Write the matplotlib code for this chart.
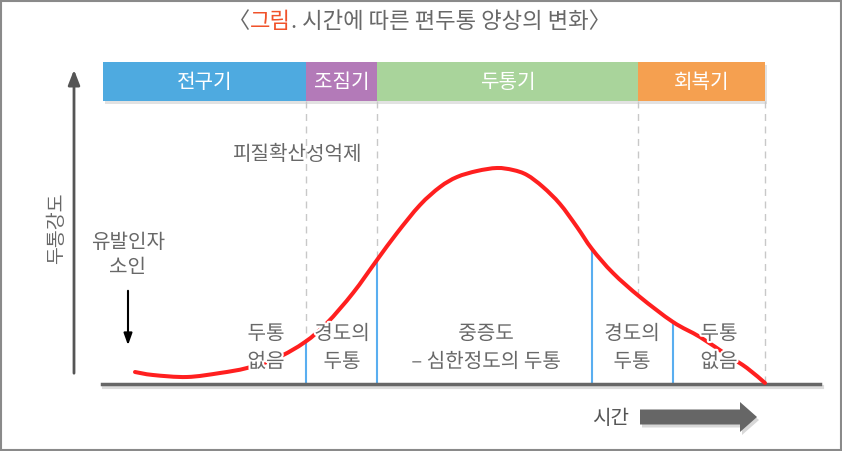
import numpy as np
import matplotlib
matplotlib.use("Agg")
import matplotlib.pyplot as plt
from matplotlib.patches import Rectangle, FancyArrow, PathPatch
from matplotlib.path import Path
import matplotlib.patheffects as pe

plt.rcParams['font.family'] = ['Noto Sans CJK KR', 'DejaVu Sans']

# 단계 (막대)
phase_names = ['전구기', '조짐기', '두통기', '회복기']
phase_edges = [103, 306, 377, 638, 765]
phase_colors = ['#4eaae0', '#b37ab8', '#a9d49b', '#f5a050']

# 두통 강도 곡선 (그림 좌표, y는 아래로 증가)
curve_x = [135, 153, 187, 220, 247, 277, 305, 327, 353, 377, 397, 420, 440,
           457, 477, 497, 513, 527, 543, 560, 577, 592, 613, 640, 673, 700,
           727, 747, 765]
curve_y = [372, 375, 377, 373, 368, 358, 342, 323, 293, 260, 233, 205, 187,
           177, 171, 168, 170, 175, 187, 204, 227, 249, 273, 297, 322, 337,
           355, 368, 383]

# 구간 경계 (파란 실선)
stage_lines = [306, 377, 592, 673]
stage_labels = [('두통\n없음', 266), ('경도의\n두통', 342),
                ('중증도\n– 심한정도의 두통', 486), ('경도의\n두통', 632),
                ('두통\n없음', 719)]

base_y = 384
gray = '#686868'
fs = 14.5
fw = 'medium'

fig = plt.figure(figsize=(8.42, 4.51), dpi=100)
ax = fig.add_axes([0, 0, 1, 1])
ax.set_xlim(0, 842)
ax.set_ylim(451, 0)
ax.axis('off')

# 테두리
ax.add_patch(Rectangle((1, 1), 840, 449, fill=False, ec='#8a8a8a', lw=1.5))

# 제목
t1 = ax.text(228, 22, '〈', ha='left', va='center', fontsize=16, color=gray,
             fontweight=fw)
t2 = ax.annotate('그림', xycoords=t1, xy=(1, 0.5), va='center', fontsize=16,
                 color='#f0522a', fontweight=fw)
ax.annotate('. 시간에 따른 편두통 양상의 변화〉', xycoords=t2, xy=(1, 0.5),
            va='center', fontsize=16, color=gray, fontweight=fw)

# 단계 막대 + 그림자
ax.add_patch(Rectangle((phase_edges[0] + 2, 65), phase_edges[-1] - phase_edges[0],
                       39, color='#d0d0d0', alpha=0.6, lw=0, zorder=1))
for i, name in enumerate(phase_names):
    x0, x1 = phase_edges[i], phase_edges[i + 1]
    ax.add_patch(Rectangle((x0, 62), x1 - x0, 39, color=phase_colors[i],
                           lw=0, zorder=2))
    ax.text((x0 + x1) / 2, 82, name, ha='center', va='center', fontsize=fs,
            color='white', fontweight=fw, zorder=3)

# 점선 (막대 아래에서 곡선까지)
for x in phase_edges[1:]:
    y_end = min(np.interp(x, curve_x, curve_y), base_y)
    ax.plot([x, x], [101, y_end], color='#c8c8c8', lw=1, ls=(0, (5, 4)),
            zorder=1)

# 파란 실선 (곡선에서 기준선까지)
for x in stage_lines:
    ax.plot([x, x], [np.interp(x, curve_x, curve_y), base_y], color='#59aef0',
            lw=1.5, zorder=2)

# 기준선 + 그림자
ax.plot([104, 822], [base_y + 3, base_y + 3], color='#dcdcdc', lw=3, zorder=1)
ax.plot([102, 820], [base_y, base_y], color='#666666', lw=2.5, zorder=3)

# 곡선: 읽은 점들을 지나는 부드러운 베지어 경로
pts = np.column_stack([curve_x, curve_y]).astype(float)
verts = [pts[0]]
codes = [Path.MOVETO]
for i in range(len(pts) - 1):
    p0 = pts[max(i - 1, 0)]
    p1, p2 = pts[i], pts[i + 1]
    p3 = pts[min(i + 2, len(pts) - 1)]
    verts += [p1 + (p2 - p0) / 6, p2 - (p3 - p1) / 6, p2]
    codes += [Path.CURVE4] * 3
ax.add_patch(PathPatch(Path(verts, codes), fill=False, ec='#ff1f1f', lw=2.9,
                       capstyle='round', zorder=4))

# 세로축 화살표
ax.annotate('', xy=(74, 67), xytext=(74, 376),
            arrowprops=dict(arrowstyle='-|>,head_length=0.9,head_width=0.35',
                            color='#555555', lw=2))
ax.text(57, 228, '두통강도', rotation=90, ha='center', va='center',
        fontsize=14, color=gray, fontweight=fw)

# 유발인자 소인
ax.text(128, 243, '유발인자', ha='center', va='center', fontsize=fs, color=gray,
        fontweight=fw)
ax.text(128, 268, '소인', ha='center', va='center', fontsize=fs, color=gray,
        fontweight=fw)
ax.annotate('', xy=(128, 348), xytext=(128, 288),
            arrowprops=dict(arrowstyle='-|>,head_length=0.7,head_width=0.25',
                            color='black', lw=1.5))

ax.text(297, 155, '피질확산성억제', ha='center', va='center', fontsize=fs,
        color=gray, fontweight=fw)

# 구간 설명
halo = [pe.withStroke(linewidth=3, foreground='white')]
for label, x in stage_labels:
    line1, line2 = label.split('\n')
    for txt, y in [(line1, 334), (line2, 362)]:
        ax.text(x, y, txt, ha='center', va='center', fontsize=fs,
                color=gray, fontweight=fw, zorder=5, path_effects=halo)

# 시간 화살표
ax.text(611, 418, '시간', ha='center', va='center', fontsize=fs, color='#555555',
        fontweight=fw)
ax.add_patch(FancyArrow(642, 420, 100, 0, width=15, head_width=30,
                        head_length=17, length_includes_head=False,
                        color='#d8d8d8', lw=0, zorder=1))
ax.add_patch(FancyArrow(640, 417, 100, 0, width=15, head_width=30,
                        head_length=17, length_includes_head=False,
                        color='#666666', lw=0, zorder=2))

fig.savefig('out.png', dpi=100)
